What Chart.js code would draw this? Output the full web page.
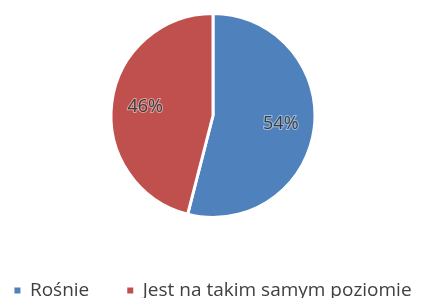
<!DOCTYPE html>
<html>
<head>
<meta charset="utf-8">
<script src="https://cdn.jsdelivr.net/npm/chart.js@4"></script>
<style>
  html, body { margin: 0; padding: 0; background: #fff; overflow: hidden; }
  #wrap { width: 423px; height: 310px; }
</style>
</head>
<body>
<div id="wrap"><canvas id="pieChart"></canvas></div>
<script>
// Values
const categories = ['Rośnie', 'Jest na takim samym poziomie'];
const shares = [54, 46];
const sliceColors = ['#4f81bd', '#c0504d'];

// Draw the percent labels inside the slices
const sliceLabels = {
    id: 'sliceLabels',
    afterDatasetsDraw(chart) {
        const ctx = chart.ctx;
        const meta = chart.getDatasetMeta(0);
        ctx.save();
        ctx.font = '18px "Open Sans", sans-serif';
        ctx.textAlign = 'center';
        ctx.textBaseline = 'middle';
        meta.data.forEach((arc, i) => {
            const p = arc.getProps(['x', 'y', 'startAngle', 'endAngle', 'outerRadius']);
            const mid = (p.startAngle + p.endAngle) / 2;
            const d = p.outerRadius * 0.67;
            const x = p.x + Math.cos(mid) * d;
            const y = p.y + Math.sin(mid) * d;
            const text = shares[i] + '%';
            ctx.lineWidth = 2;
            ctx.strokeStyle = 'rgba(255,255,255,0.45)';
            ctx.strokeText(text, x, y);
            ctx.fillStyle = '#3c3c3c';
            ctx.fillText(text, x, y);
        });
        ctx.restore();
    }
};

// Keep both legend items on one row (the wide item gap would wrap them)
const oneRowLegend = {
    id: 'oneRowLegend',
    beforeLayout(chart) {
        const legend = chart.legend;
        if (!legend || legend._oneRow) return;
        const fit = legend.fit;
        legend.fit = function() {
            const m = this.maxWidth;
            this.maxWidth = m + 100;
            fit.call(this);
            this.maxWidth = m;
            this.width = Math.min(this.width, m);
        };
        const draw = legend.draw;
        legend.draw = function() {
            const l = this.left, r = this.right;
            this.left = l - 50;
            this.right = r + 50;
            draw.call(this);
            this.left = l;
            this.right = r;
        };
        legend._oneRow = true;
    }
};

var ctxPie = document.getElementById('pieChart').getContext('2d');
var pieChart = new Chart(ctxPie, {
    type: 'pie',
    data: {
        labels: categories,
        datasets: [{
            data: shares,
            backgroundColor: sliceColors,
            borderColor: '#ffffff',
            borderWidth: 3
        }]
    },
    options: {
        responsive: true,
        maintainAspectRatio: false,
        animation: false,
        layout: {
            padding: { top: 12, left: 3 }
        },
        plugins: {
            tooltip: { enabled: false },
            legend: {
                position: 'bottom',
                title: {
                    display: true,
                    text: ' ',
                    font: { size: 10 },
                    padding: { top: 6, bottom: 6 }
                },
                labels: {
                    boxWidth: 6,
                    boxHeight: 6,
                    padding: 38,
                    color: '#404040',
                    font: { family: '"Open Sans", sans-serif', size: 19 },
                    generateLabels: function(chart) {
                        // default labels, but without the white slice border on the boxes
                        const items = Chart.controllers.pie.overrides.plugins.legend.labels.generateLabels(chart);
                        items.forEach(item => {
                            item.lineWidth = 0;
                            item.strokeStyle = item.fillStyle;
                        });
                        return items;
                    }
                }
            }
        }
    },
    plugins: [sliceLabels, oneRowLegend]
});
</script>
</body>
</html>
